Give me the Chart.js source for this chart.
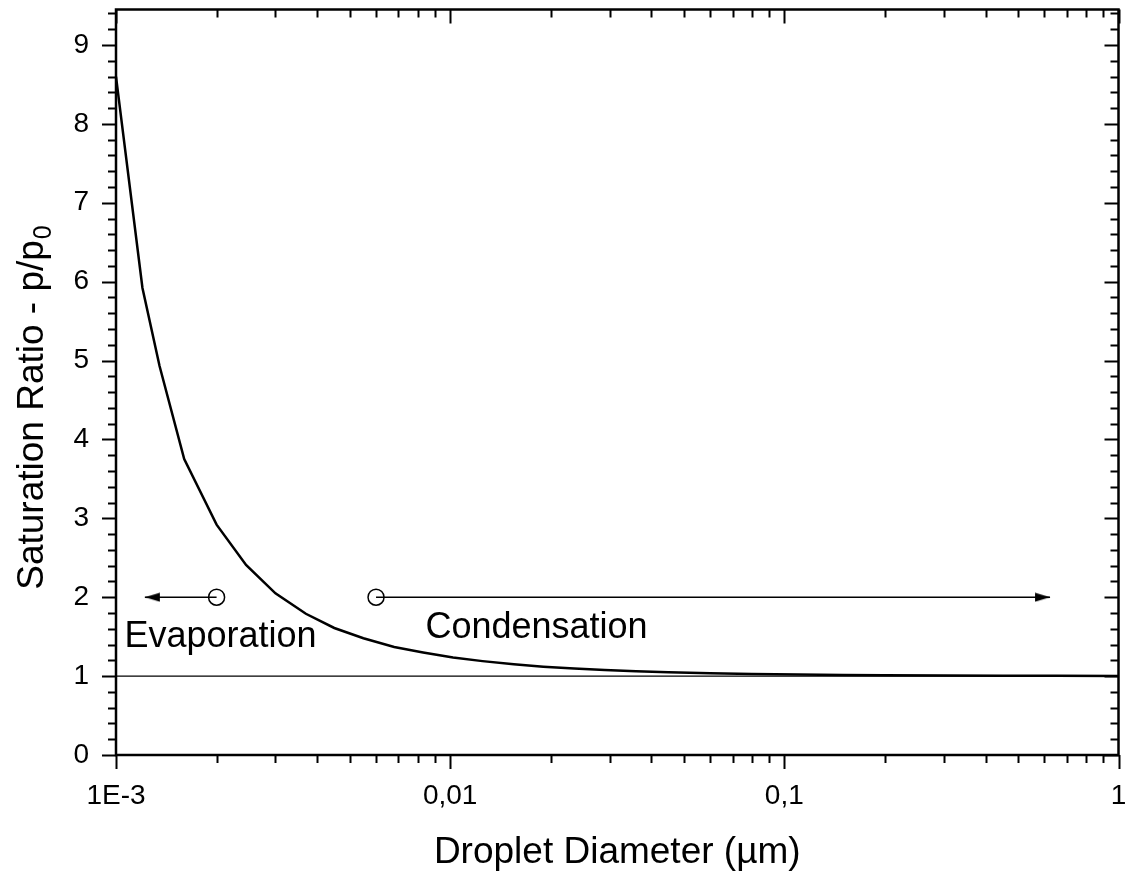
<!DOCTYPE html>
<html>
<head>
<meta charset="utf-8">
<script src="https://cdn.jsdelivr.net/npm/chart.js@4.4.1/dist/chart.umd.min.js"></script>
<style>
  html, body { margin: 0; padding: 0; background: #fff; }
  #wrap { width: 1128px; height: 873px; position: relative; }
</style>
</head>
<body>
<div id="wrap"><canvas id="chart" width="1128" height="873"></canvas></div>
<script>
// Data
const diameters = [0.001, 0.0012, 0.00135, 0.0016, 0.002, 0.00245, 0.003, 0.0037, 0.0045, 0.0055,
    0.0068, 0.0083, 0.0102, 0.0125, 0.0155, 0.019, 0.0235, 0.029, 0.036, 0.045,
    0.06, 0.08, 0.11, 0.15, 0.2, 0.3, 0.45, 0.65, 1];
const saturation = [8.6, 5.92, 4.93, 3.75, 2.92, 2.41, 2.05, 1.79, 1.61, 1.48,
    1.37, 1.30, 1.235, 1.19, 1.15, 1.12, 1.095, 1.077, 1.062, 1.049,
    1.037, 1.027, 1.020, 1.014, 1.011, 1.007, 1.005, 1.003, 1.002];

const unityX = [0.001, 1];
const unityY = [1, 1];

const evapX = [0.002, 0.00122];
const evapY = [2, 2];
const condX = [0.006, 0.624];
const condY = [2, 2];

const xTickValues = [0.001, 0.01, 0.1, 1];
const xTickLabels = ['1E-3', '0,01', '0,1', '1'];
const yTickValues = [0, 1, 2, 3, 4, 5, 6, 7, 8, 9];
const yMax = 9.45;

const xTitle = 'Droplet Diameter (\u00b5m)';
const yTitle = 'Saturation Ratio - p/p';
const yTitleSub = '0';

const notes = [
    { text: 'Evaporation', x: 0.00106, y: 1.37 },
    { text: 'Condensation', x: 0.00843, y: 1.48 }
];

const FONT = '"Liberation Sans", Arial, sans-serif';

// little arrow heads, tip sits at the centre of the image
function makeArrow(dir) {
    const c = document.createElement('canvas');
    c.width = 32; c.height = 10;
    const g = c.getContext('2d');
    g.fillStyle = '#000';
    g.beginPath();
    if (dir > 0) {
        g.moveTo(16, 5); g.lineTo(1, 0.5); g.lineTo(1, 9.5);
    } else {
        g.moveTo(16, 5); g.lineTo(31, 0.5); g.lineTo(31, 9.5);
    }
    g.closePath();
    g.fill();
    return c;
}
const arrowLeft = makeArrow(-1);
const arrowRight = makeArrow(1);

function toPoints(xs, ys) {
    return xs.map((x, i) => ({ x: x, y: ys[i] }));
}

function arrowDataset(xs, ys, head) {
    return {
        data: toPoints(xs, ys),
        borderColor: '#000',
        borderWidth: 1.5,
        showLine: true,
        pointStyle: ['circle', head],
        pointRadius: [8, 8],
        pointBorderWidth: [1.5, 0],
        pointBorderColor: '#000',
        pointBackgroundColor: 'rgba(0,0,0,0)',
        order: 1
    };
}

// frame, minor/major ticks, y title with subscript, text notes
const decorPlugin = {
    id: 'decor',
    afterDraw(chart) {
        const { ctx, chartArea: a, scales } = chart;
        const xs = scales.x, ys = scales.y;
        ctx.save();
        ctx.strokeStyle = '#000';
        ctx.lineWidth = 2.5;
        ctx.strokeRect(a.left, a.top, a.right - a.left, a.bottom - a.top);

        ctx.lineWidth = 2;
        const major = 14, minor = 8;
        ctx.beginPath();
        // y ticks every 0.2
        for (let i = 0; i * 0.2 <= yMax + 1e-9; i++) {
            const v = i * 0.2;
            const py = Math.round(ys.getPixelForValue(v)) + 0.5;
            const len = (i % 5 === 0) ? major : minor;
            ctx.moveTo(a.left, py); ctx.lineTo(a.left - len, py);
            ctx.moveTo(a.right, py); ctx.lineTo(a.right - len, py);
        }
        // x ticks, log decades
        for (let d = 0.001; d < 1.5; d *= 10) {
            for (let m = 1; m <= 9; m++) {
                const v = d * m;
                if (v > 1.0001) break;
                const px = Math.round(xs.getPixelForValue(v)) + 0.5;
                const len = (m === 1) ? major : minor;
                ctx.moveTo(px, a.bottom); ctx.lineTo(px, a.bottom + len);
                ctx.moveTo(px, a.top); ctx.lineTo(px, a.top + len);
            }
        }
        ctx.stroke();

        ctx.fillStyle = '#000';
        // x title
        ctx.font = '37px ' + FONT;
        ctx.textAlign = 'center';
        ctx.textBaseline = 'alphabetic';
        ctx.fillText(xTitle, (a.left + a.right) / 2, 863);

        // y title, rotated, with subscript
        ctx.save();
        ctx.translate(43, 408);
        ctx.rotate(-Math.PI / 2);
        ctx.textAlign = 'left';
        ctx.font = '37px ' + FONT;
        const w = ctx.measureText(yTitle).width;
        ctx.font = '25px ' + FONT;
        const ws = ctx.measureText(yTitleSub).width;
        const x0 = -(w + ws) / 2;
        ctx.font = '37px ' + FONT;
        ctx.fillText(yTitle, x0, 0);
        ctx.font = '25px ' + FONT;
        ctx.fillText(yTitleSub, x0 + w + 1, 8);
        ctx.restore();

        // notes
        ctx.font = '36px ' + FONT;
        ctx.textAlign = 'left';
        notes.forEach(n => {
            ctx.fillText(n.text, xs.getPixelForValue(n.x), ys.getPixelForValue(n.y));
        });
        ctx.restore();
    }
};

const chart = new Chart(document.getElementById('chart'), {
    type: 'scatter',
    data: {
        datasets: [
            {
                data: toPoints(diameters, saturation),
                borderColor: '#000',
                borderWidth: 2.5,
                showLine: true,
                pointRadius: 0,
                tension: 0,
                order: 0
            },
            {
                data: toPoints(unityX, unityY),
                borderColor: '#000',
                borderWidth: 1.2,
                showLine: true,
                pointRadius: 0,
                order: 2
            },
            arrowDataset(evapX, evapY, arrowLeft),
            arrowDataset(condX, condY, arrowRight)
        ]
    },
    options: {
        responsive: false,
        animation: false,
        clip: false,
        layout: { padding: { top: 9, right: 3, left: 0, bottom: 0 } },
        plugins: {
            legend: { display: false },
            tooltip: { enabled: false }
        },
        scales: {
            x: {
                type: 'logarithmic',
                min: 0.001,
                max: 1,
                grid: { display: false, drawTicks: false },
                border: { display: false },
                afterBuildTicks: s => { s.ticks = xTickValues.map(v => ({ value: v })); },
                afterFit: s => { s.height = 118; s.paddingLeft = 0; s.paddingRight = 0; },
                ticks: {
                    autoSkip: false,
                    maxRotation: 0,
                    padding: 24,
                    color: '#000',
                    font: { family: FONT, size: 28 },
                    callback: (v, i) => xTickLabels[i]
                }
            },
            y: {
                min: 0,
                max: yMax,
                grid: { display: false, drawTicks: false },
                border: { display: false },
                afterBuildTicks: s => { s.ticks = yTickValues.map(v => ({ value: v })); },
                afterFit: s => { s.width = 116; s.paddingTop = 0; s.paddingBottom = 0; },
                ticks: {
                    padding: 27,
                    color: '#000',
                    font: { family: FONT, size: 28 },
                    callback: v => String(v)
                }
            }
        }
    },
    plugins: [decorPlugin]
});
</script>
</body>
</html>
